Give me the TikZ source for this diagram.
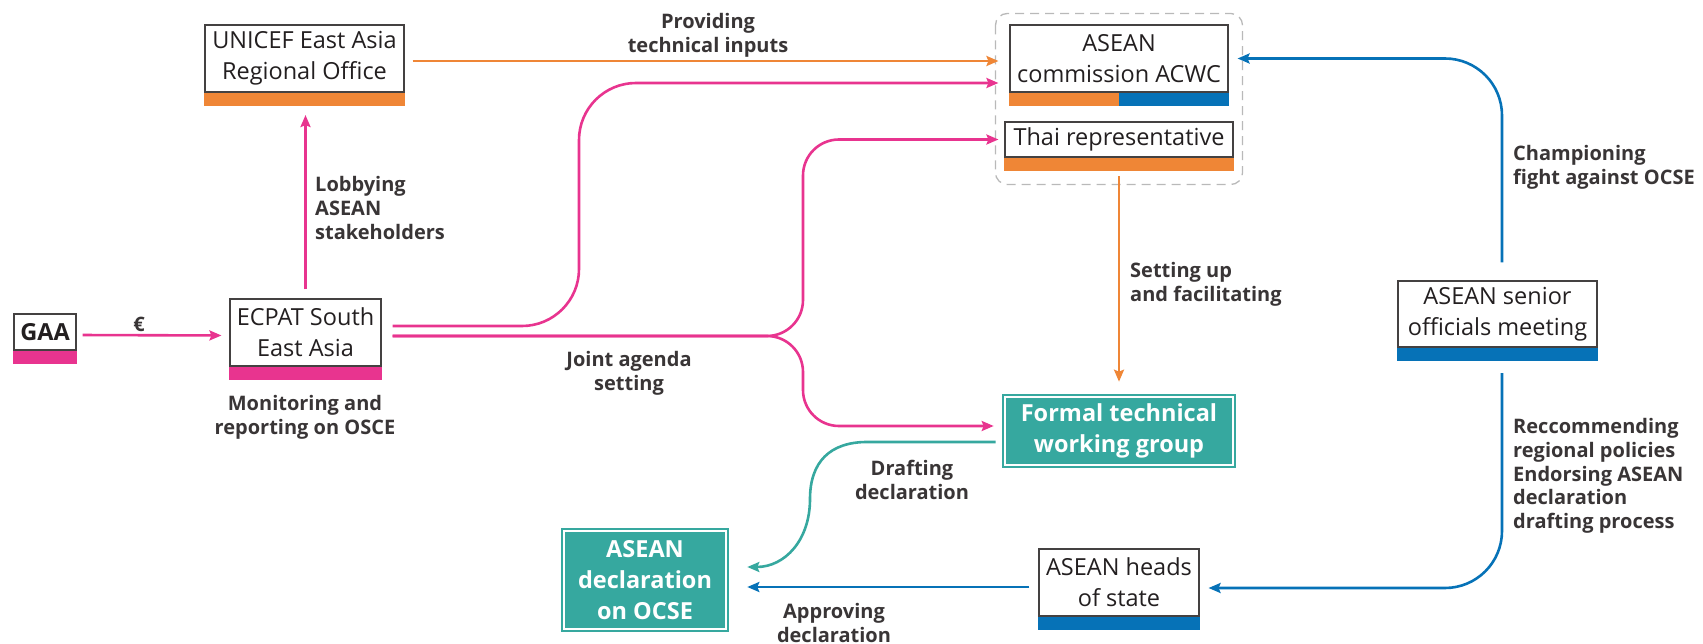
\documentclass[tikz,border=0pt]{standalone}
\usepackage{fontspec}
\setmainfont{Open Sans}
\usetikzlibrary{calc,arrows.meta}

\definecolor{ecOrange}{HTML}{EF8636}
\definecolor{ecPink}{HTML}{E8348F}
\definecolor{ecBlue}{HTML}{0672B7}
\definecolor{ecTeal}{HTML}{36A89F}
\definecolor{ecText}{HTML}{231F20}

\begin{document}
\begin{tikzpicture}[x=1pt, y=-1pt]
	% Configurable lengths
	\def\barHeight{13.5}
	\def\cornerRadius{57pt}
	\def\branchRadius{36pt}

	% Styles
	\tikzstyle{actor}=[draw=ecText!85, line width=1.1pt, fill=white, rectangle, align=center, inner sep=0pt, text=ecText, font={\fontsize{23.5}{31}\selectfont}]
	\tikzstyle{outcome}=[draw=ecTeal, fill=ecTeal, double=white, double distance=1.1pt, line width=2.6pt, rectangle, align=center, inner sep=0pt, text=white, font={\fontsize{23.5}{31}\selectfont\bfseries}]
	\tikzstyle{flow}=[line width=2.6pt, -{Stealth[length=12pt, width=10pt, inset=2pt]}]
	\tikzstyle{note}=[text=ecText!90, inner sep=0pt, font={\fontsize{20}{23.75}\selectfont\bfseries}]

	\useasboundingbox (0,0) rectangle (1703,644);

	% Actors
	\node[actor, minimum width=62pt, minimum height=36pt, font={\fontsize{23.5}{31}\selectfont\bfseries}] (gaa) at (45,332) {GAA};
	\node[actor, minimum width=151pt, minimum height=67pt] (ecpat) at (305.5,332.5) {ECPAT South\\East Asia};
	\node[actor, minimum width=199pt, minimum height=67pt] (unicef) at (304.5,58.5) {UNICEF East Asia\\Regional Office};
	\node[actor, minimum width=218pt, minimum height=67pt] (acwc) at (1119,58.5) {ASEAN\\commission ACWC};
	\node[actor, minimum width=228pt, minimum height=35pt] (thai) at (1119,139.5) {Thai representative};
	\node[actor, minimum width=199pt, minimum height=66pt] (senior) at (1497.5,314) {ASEAN senior\\officials meeting};
	\node[actor, minimum width=160pt, minimum height=67pt] (heads) at (1119,582.5) {ASEAN heads\\of state};

	% Outcomes
	\node[outcome, minimum width=228pt, minimum height=68pt] (formal) at (1119,431) {Formal technical\\working group};
	\node[outcome, minimum width=162pt, minimum height=98pt] (decl) at (645,580) {ASEAN\\declaration\\on OCSE};

	% Colour bars
	\foreach \n/\c in {gaa/ecPink, ecpat/ecPink, unicef/ecOrange, thai/ecOrange, senior/ecBlue, heads/ecBlue}
		\fill[\c] (\n.south west) rectangle ($(\n.south east)+(0,\barHeight)$);
	\fill[ecOrange] (acwc.south west) rectangle ($(acwc.south)+(0,\barHeight)$);
	\fill[ecBlue] (acwc.south) rectangle ($(acwc.south east)+(0,\barHeight)$);

	% ASEAN group
	\draw[gray!55, line width=1.3pt, dash pattern=on 9pt off 6pt, rounded corners=12pt] ($(acwc.north west)+(-14,-11)$) rectangle ($(thai.south east)+(9,27)$);

	% Entry points
	\coordinate (acwc_in) at ($(acwc.west)+(-11,24.5)$);
	\coordinate (thai_in) at ($(thai.west)+(-6,0)$);
	\coordinate (formal_in) at ($(formal.west)+(-10,-5)$);
	\coordinate (riseA) at (579,0);
	\coordinate (riseB) at (803,0);

	% Pink flows
	\draw[flow, ecPink, shorten <=6pt, shorten >=8pt] ([yshift=-3pt]gaa.east) -- ([yshift=-3pt]ecpat.west);
	\draw[flow, ecPink, shorten <=9pt, shorten >=22.5pt] (ecpat.north) -- (ecpat.north |- unicef.south);
	\draw[flow, ecPink, rounded corners=\cornerRadius] ($(ecpat.east)+(11,-6.5)$) -| (riseA |- acwc_in) -- (acwc_in);
	\draw[flow, ecPink, rounded corners=\branchRadius] ($(ecpat.east)+(11,3.5)$) -| (riseB |- thai_in) -- (thai_in);
	\draw[flow, ecPink, rounded corners=\branchRadius] ($(ecpat.east)+(11,3.5)$) -| (riseB |- formal_in) -- (formal_in);

	% Orange flows
	\draw[flow, ecOrange, shorten <=8pt, shorten >=11pt] ([yshift=-2.5pt]unicef.east) -- ([yshift=-2.5pt]acwc.west);
	\draw[flow, ecOrange, shorten <=5pt, shorten >=14pt] ($(thai.south)+(0,\barHeight)$) -- (formal.north);

	% Teal flow
	\draw[flow, ecTeal] ($(formal.west)+(-8,11)$) -- (867,442) .. controls (830,442) and (810,462) .. (810,499) .. controls (810,540) and (785,567) .. ($(decl.east)+(20,-13)$);

	% Blue flows
	\draw[flow, ecBlue] ($(heads.west)+(-9,4.5)$) -- ($(decl.east)+(20,7)$);
	\draw[flow, ecBlue, rounded corners=\cornerRadius] ($(senior.north)+(4.5,-18)$) |- ($(acwc.east)+(9,0)$);
	\draw[flow, ecBlue, rounded corners=\cornerRadius] ($(senior.south)+(4.5,\barHeight+12)$) |- ($(heads.east)+(9,5.5)$);

	% Labels
	\node[note] at (139,324) {€};
	\node[note, anchor=west, align=left] at (315,208) {Lobbying\\ASEAN\\stakeholders};
	\node[note, align=center] at (305,417) {Monitoring and\\reporting on OSCE};
	\node[note, align=center] at (708,35) {Providing\\technical inputs};
	\node[note, align=center] at (629,373.5) {Joint agenda\\setting};
	\node[note, anchor=west, align=left] at (1130,284) {Setting up\\and facilitating};
	\node[note, align=center] at (912,480) {Drafting\\declaration};
	\node[note, align=center] at (834,623) {Approving\\declaration};
	\node[note, anchor=west, align=left] at (1513,167.5) {Championing\\fight against OCSE};
	\node[note, anchor=west, align=left] at (1513,476) {Reccommending\\regional policies\\Endorsing ASEAN\\declaration\\drafting process};
\end{tikzpicture}
\end{document}
